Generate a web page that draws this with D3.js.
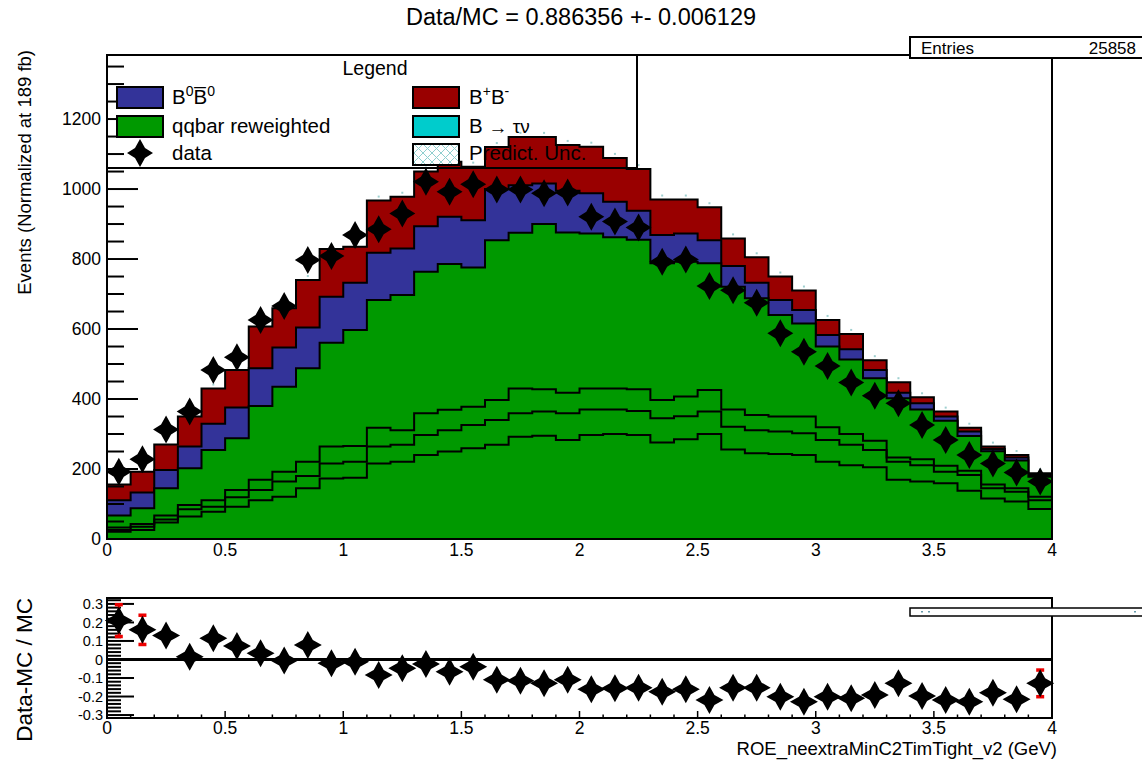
<!DOCTYPE html>
<html><head><meta charset="utf-8">
<script src="https://cdn.jsdelivr.net/npm/d3@7"></script>
<style>
body{margin:0;background:#fff}
text{font-family:"Liberation Sans",Arial,Helvetica,sans-serif;fill:#000}
</style>
</head><body>
<svg id="chart" width="1142" height="760"></svg>
<script>
// ---------------- data ----------------
const xMin = 0, xMax = 4, nBins = 40;
const qqbar = [67,88,145,202,254,288,380,435,488,561,597,683,697,764,786,776,854,875,900,876,
               873,862,855,788,792,788,721,688,640,616,550,513,459,402,370,338,294,251,224,178];
const b0b0  = [44,45,52,62,75,88,108,112,116,131,135,135,133,130,135,135,146,136,116,119,
               115,102,83,81,81,66,59,44,43,38,33,29,24,16,18,12,13,6,9,5];
const bpbm  = [45,59,73,86,101,107,119,112,136,137,103,149,148,156,157,153,120,138,133,131,
               133,125,119,101,97,94,79,73,67,56,43,44,28,30,17,14,11,7,7,5];
const dataVals = [192,228,313,364,483,519,626,666,797,809,869,885,930,1021,992,1014,999,999,988,990,
                  921,907,890,792,799,723,711,675,588,535,494,447,409,388,326,283,240,216,190,164];
const lineA = [33,43,67,97,111,140,169,192,221,264,266,318,311,359,369,378,397,430,428,418,
               430,430,428,397,407,426,370,354,350,350,319,300,281,233,228,209,195,156,145,121];
const lineB = [26,35,56,85,92,119,140,164,180,216,221,264,269,297,311,326,340,359,364,359,
               370,370,366,345,351,364,321,311,307,302,283,269,254,221,211,192,183,145,135,111];
const lineC = [21,26,47,64,78,92,111,121,145,173,175,216,221,240,250,259,269,292,295,283,
               297,300,297,276,285,300,256,245,243,240,221,211,205,169,164,159,138,116,107,86];
const ratioVals = [0.21,0.16,0.13,0.015,0.115,0.073,0.033,-0.006,0.078,-0.02,-0.012,-0.084,-0.048,-0.024,-0.066,-0.039,-0.11,-0.115,-0.129,-0.11,
                   -0.161,-0.156,-0.152,-0.174,-0.161,-0.219,-0.152,-0.152,-0.201,-0.228,-0.201,-0.21,-0.192,-0.129,-0.197,-0.219,-0.228,-0.179,-0.215,-0.129];
// only the visibly larger (red) error bars
const ratioErr = [0.086,0.079,0,0,0,0,0,0,0,0,0,0,0,0,0,0,0,0,0,0,
                  0,0,0,0,0,0,0,0,0,0,0,0,0,0,0,0,0,0,0,0.072];
const mainYTicks = [0,200,400,600,800,1000,1200];
const xTicks = [0,0.5,1,1.5,2,2.5,3,3.5,4];
const xTickLabels = ["0","0.5","1","1.5","2","2.5","3","3.5","4"];
const ratioTicks = [-0.3,-0.2,-0.1,0,0.1,0.2,0.3];
const ratioTickLabels = ["-0.3","-0.2","-0.1","0","0.1","0.2","0.3"];
const titleText = "Data/MC = 0.886356 +- 0.006129";
const statsLabel = "Entries", statsValue = "25858";
const xTitle = "ROE_neextraMinC2TimTight_v2 (GeV)";
const yTitleMain = "Events (Normalized at 189 fb)";
const yTitleRatio = "Data-MC / MC";

const colRed = "#990000", colBlue = "#333399", colGreen = "#009900", colCyan = "#00cccc";

// ---------------- setup ----------------
const svg = d3.select("#chart");
const binW = (xMax - xMin) / nBins;
const edges = d3.range(nBins + 1).map(i => xMin + i * binW);
const centers = d3.range(nBins).map(i => xMin + (i + 0.5) * binW);

const x = d3.scaleLinear().domain([xMin, xMax]).range([107, 1052]);
const y = d3.scaleLinear().domain([0, 1383]).range([539, 55]);
const yr = d3.scaleLinear().domain([-0.316, 0.332]).range([718, 598]);

const defs = svg.append("defs");
const hp = defs.append("pattern").attr("id","hatch").attr("patternUnits","userSpaceOnUse")
  .attr("width",9).attr("height",9);
hp.append("rect").attr("width",9).attr("height",9).attr("fill","#fff");
hp.append("path").attr("d","M0,0L9,9M9,0L0,9").attr("stroke","#8fcfcf").attr("stroke-width",1);
defs.append("clipPath").attr("id","mainclip").append("rect").attr("x",107).attr("y",55).attr("width",945).attr("height",484);

function starPath(w, h, a) {
  return `M0,${-h}L${a},${-a}L${w},0L${a},${a}L0,${h}L${-a},${a}L${-w},0L${-a},${-a}Z`;
}
const STAR = starPath(13, 14, 5);

// ---------------- stack ----------------
const table = d3.range(nBins).map(i => ({qqbar: qqbar[i], b0b0: b0b0[i], bpbm: bpbm[i]}));
const stacked = d3.stack().keys(["qqbar","b0b0","bpbm"])(table);
const layerColors = {qqbar: colGreen, b0b0: colBlue, bpbm: colRed};

function stepPts(vals) {
  const pts = [[xMin, 0]];
  vals.forEach((v, i) => pts.push([edges[i], v]));
  pts.push([xMax, vals[vals.length - 1]]);
  pts.push([xMax, 0]);
  return pts;
}
const stepLine = d3.line().x(d => x(d[0])).y(d => y(d[1])).curve(d3.curveStepAfter);

const gMain = svg.append("g").attr("clip-path","url(#mainclip)");
[...stacked].reverse().forEach(layer => {
  const tops = layer.map(d => d[1]);
  const pts = stepPts(tops);
  gMain.append("path").attr("d", stepLine(pts) + "Z")
    .attr("fill", layerColors[layer.key]).attr("stroke","#000").attr("stroke-width",2)
    .attr("stroke-linejoin","miter");
});

// component lines
[lineA, lineB, lineC].forEach(arr => {
  const pts = arr.map((v, i) => [edges[i], v]);
  pts.push([xMax, arr[arr.length - 1]]);
  gMain.append("path").attr("d", stepLine(pts)).attr("fill","none")
    .attr("stroke","#000").attr("stroke-width",2);
});

// tiny uncertainty markers on stack tops
const totals = stacked[2].map(d => d[1]);
gMain.selectAll("rect.unc").data(centers).join("rect").attr("class","unc")
  .attr("x", (c) => x(c) - 1).attr("y", (c, i) => y(totals[i]) - 5)
  .attr("width", 2).attr("height", 2).attr("fill", "#9fd0d0");

// data stars
gMain.selectAll("path.data").data(centers).join("path").attr("class","data")
  .attr("transform", (c, i) => `translate(${x(c)},${y(dataVals[i])})`)
  .attr("d", STAR).attr("fill","#000");

// ---------------- main frame & axes ----------------
svg.append("rect").attr("x",107).attr("y",55).attr("width",945).attr("height",484)
  .attr("fill","none").attr("stroke","#000").attr("stroke-width",2);

const yMinor = d3.range(0, 1383, 50);
svg.selectAll("line.ymin").data(yMinor).join("line").attr("class","ymin")
  .attr("x1",107).attr("x2", d => d % 200 === 0 ? 138 : 124)
  .attr("y1", d => y(d)).attr("y2", d => y(d)).attr("stroke","#000").attr("stroke-width",2);

svg.selectAll("text.ylab").data(mainYTicks).join("text").attr("class","ylab")
  .attr("x",101).attr("y", d => y(d)).attr("dy","0.36em").attr("text-anchor","end")
  .attr("font-size",17.5).text(d => d);

svg.selectAll("text.xlab").data(xTicks).join("text").attr("class","xlab")
  .attr("x", d => x(d)).attr("y",556).attr("text-anchor","middle")
  .attr("font-size",17.5).text((d, i) => xTickLabels[i]);

svg.append("text").attr("transform","translate(31,50) rotate(-90)")
  .attr("text-anchor","end").attr("font-size",18.5).text(yTitleMain);

// title
svg.append("text").attr("x",581).attr("y",25).attr("text-anchor","middle")
  .attr("font-size",23.5).text(titleText);

// stats box
svg.append("rect").attr("x",910).attr("y",37).attr("width",250).attr("height",21)
  .attr("fill","#fff").attr("stroke","#000").attr("stroke-width",2);
svg.append("text").attr("x",921).attr("y",53.5).attr("font-size",17).text(statsLabel);
svg.append("text").attr("x",1136).attr("y",53.5).attr("text-anchor","end").attr("font-size",17).text(statsValue);

// ---------------- legend ----------------
const lg = svg.append("g");
lg.append("rect").attr("x",107).attr("y",55).attr("width",530).attr("height",113)
  .attr("fill","none").attr("stroke","#000").attr("stroke-width",2);
lg.append("text").attr("x",375).attr("y",75).attr("text-anchor","middle").attr("font-size",19.5).text("Legend");
function legBox(xx, yy, fill) {
  lg.append("rect").attr("x",xx).attr("y",yy).attr("width",46).attr("height",21)
    .attr("fill",fill).attr("stroke","#000").attr("stroke-width",2);
}
legBox(117, 87, colBlue);
legBox(117, 116, colGreen);
legBox(413, 87, colRed);
legBox(413, 116, colCyan);
legBox(413, 144, "url(#hatch)");
lg.append("path").attr("transform","translate(140,153)").attr("d", STAR).attr("fill","#000");

const fs = 20.5;
const t1 = lg.append("text").attr("x",172).attr("y",104).attr("font-size",fs);
t1.append("tspan").text("B");
t1.append("tspan").attr("font-size",14).attr("dy",-8).text("0");
t1.append("tspan").attr("dy",8).text("B\u0305");
t1.append("tspan").attr("font-size",14).attr("dy",-8).text("0");
lg.append("text").attr("x",172).attr("y",133).attr("font-size",fs).text("qqbar reweighted");
lg.append("text").attr("x",172).attr("y",160).attr("font-size",fs).text("data");
const t2 = lg.append("text").attr("x",469).attr("y",104).attr("font-size",fs);
t2.append("tspan").text("B");
t2.append("tspan").attr("font-size",14).attr("dy",-8).text("+");
t2.append("tspan").attr("dy",8).text("B");
t2.append("tspan").attr("font-size",14).attr("dy",-8).text("-");
const t3 = lg.append("text").attr("x",469).attr("y",133).attr("font-size",fs);
t3.append("tspan").text("B ");
t3.append("tspan").attr("font-size",19).attr("dy",1).text("\u2192 ");
t3.append("tspan").attr("font-size",19).attr("dy",-1).text("\u03c4\u03bd");
lg.append("text").attr("x",469).attr("y",160).attr("font-size",fs).text("Predict. Unc.");

// ---------------- ratio panel ----------------
svg.append("rect").attr("x",107).attr("y",598).attr("width",945).attr("height",120)
  .attr("fill","none").attr("stroke","#000").attr("stroke-width",2);

// y ticks
const rMinor = d3.range(-30, 34, 2).map(v => v / 100);
svg.selectAll("line.rmin").data(rMinor).join("line").attr("class","rmin")
  .attr("x1",107).attr("x2", d => Math.abs(Math.round(d*100)) % 10 === 0 ? 134 : 121)
  .attr("y1", d => yr(d)).attr("y2", d => yr(d)).attr("stroke","#000").attr("stroke-width",2);
svg.selectAll("text.rlab").data(ratioTicks).join("text").attr("class","rlab")
  .attr("x",103).attr("y", d => yr(d)).attr("dy","0.36em").attr("text-anchor","end")
  .attr("font-size",14.5).text((d, i) => ratioTickLabels[i]);

// x ticks
const xMinorR = d3.range(0, 41).map(i => i / 10);
svg.selectAll("line.xr").data(xMinorR).join("line").attr("class","xr")
  .attr("x1", d => x(d)).attr("x2", d => x(d)).attr("y1",718)
  .attr("y2", (d, i) => i % 5 === 0 ? 711 : 714.5).attr("stroke","#000").attr("stroke-width",1.5);
svg.selectAll("text.xrl").data(xTicks).join("text").attr("class","xrl")
  .attr("x", d => x(d)).attr("y",734).attr("text-anchor","middle")
  .attr("font-size",17.5).text((d, i) => xTickLabels[i]);

// zero line
svg.append("line").attr("x1",107).attr("x2",1052).attr("y1",yr(0)).attr("y2",yr(0))
  .attr("stroke","#000").attr("stroke-width",3);

// error bars (red)
centers.forEach((c, i) => {
  const e = ratioErr[i];
  if (!e) return;
  const cx = x(c), lo = yr(ratioVals[i] - e), hi = yr(ratioVals[i] + e);
  svg.append("line").attr("x1",cx).attr("x2",cx).attr("y1",lo).attr("y2",hi).attr("stroke","#e00").attr("stroke-width",2);
  [lo, hi].forEach(yy => svg.append("line").attr("x1",cx-4).attr("x2",cx+4).attr("y1",yy).attr("y2",yy)
     .attr("stroke","#e00").attr("stroke-width",3.5));
});

svg.selectAll("path.rdata").data(centers).join("path").attr("class","rdata")
  .attr("transform", (c, i) => `translate(${x(c)},${yr(ratioVals[i])})`)
  .attr("d", starPath(14, 14, 5)).attr("fill","#000");

// collapsed stats box in ratio pad
svg.append("rect").attr("x",910).attr("y",608).attr("width",250).attr("height",8)
  .attr("fill","#fff").attr("stroke","#000").attr("stroke-width",1.5);
[921, 928, 1134].forEach(px => svg.append("rect").attr("x",px).attr("y",611).attr("width",2).attr("height",1.5).attr("fill","#69a"));

svg.append("text").attr("transform","translate(32,598) rotate(-90)")
  .attr("text-anchor","end").attr("font-size",22.5).text(yTitleRatio);
svg.append("text").attr("x",1057).attr("y",755).attr("text-anchor","end")
  .attr("font-size",18.5).text(xTitle);
</script>
</body></html>
